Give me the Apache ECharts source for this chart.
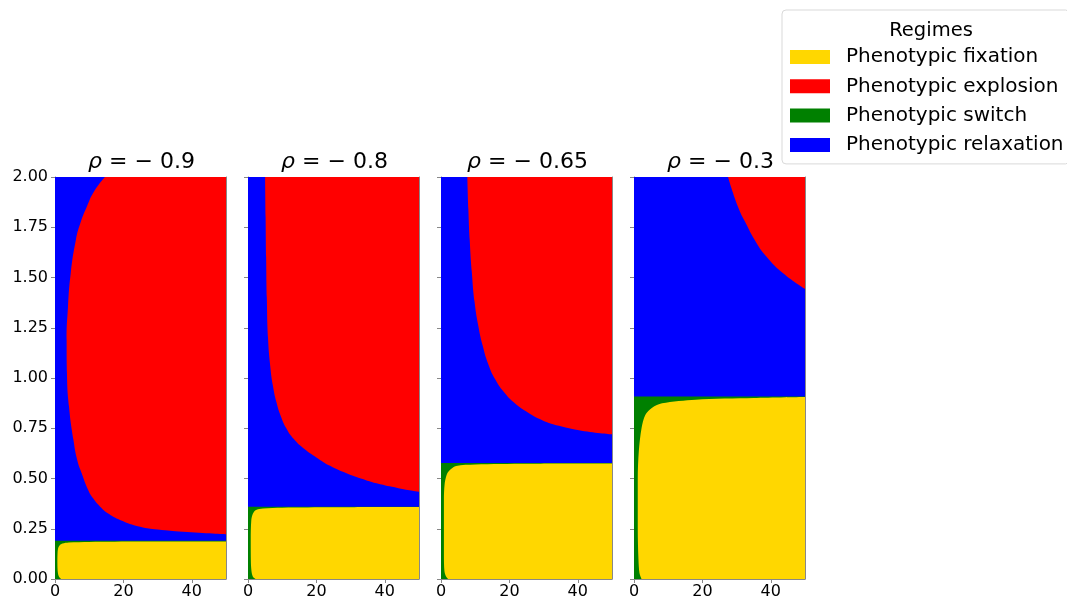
<!DOCTYPE html>
<html>
<head>
<meta charset="utf-8">
<script src="https://cdn.jsdelivr.net/npm/echarts@6/dist/echarts.min.js"></script>
<style>html,body{margin:0;padding:0;background:#fff}#c{width:1067px;height:596px}</style>
</head>
<body>
<div id="c"></div>
<script>
// ---- data ----
const rhoLabels = ['−0.9', '−0.8', '−0.65', '−0.3'];
const regimeNames = ['Phenotypic fixation', 'Phenotypic explosion', 'Phenotypic switch', 'Phenotypic relaxation'];
const regimeColors = ['#FFD700', '#FF0000', '#008000', '#0000FF'];
const xTicks = [0, 20, 40];
const xMax = 50, yMax = 2;

// top of the switch (green) band per panel
const switchTop = [0.19, 0.36, 0.577, 0.908];

// fixation (yellow) boundary, [x, y], filled down to y = 0
const fixation1 = [[1.8,0],[1.2,0.01],[0.85,0.03],[0.7,0.08],[0.75,0.13],[0.95,0.155],[1.4,0.168],[2.2,0.176],[4,0.181],[10,0.184],[25,0.186],[50,0.187]];
const fixation2 = [[2.2,0],[1.5,0.01],[1.1,0.03],[0.85,0.08],[0.8,0.2],[0.95,0.29],[1.3,0.32],[2.2,0.342],[4.4,0.351],[10,0.355],[25,0.357],[50,0.358]];
const fixation3 = [[2.1,0],[1.4,0.015],[1.0,0.04],[0.85,0.12],[0.85,0.4],[1.05,0.47],[1.5,0.51],[2.2,0.535],[4.4,0.562],[10,0.57],[25,0.574],[50,0.575]];
const fixation4 = [[2.2,0],[1.6,0.03],[1.3,0.1],[1.1,0.25],[1.1,0.5],[1.4,0.634],[2.2,0.75],[3.3,0.816],[5.3,0.852],[8.2,0.874],[18,0.892],[35,0.9],[50,0.905]];

// explosion (red) boundary, [x, y], filled up to y = 2
const explosion1 = [[14.6,2],[11.5,1.93],[9.3,1.852],[7.4,1.77],[6.1,1.687],[4.6,1.521],[3.8,1.355],[3.4,1.189],[3.5,1.023],[4.1,0.857],[5.4,0.692],[6.5,0.592],[7.8,0.526],[9.7,0.443],[11.2,0.4],[13.2,0.36],[15.8,0.323],[19,0.294],[24.9,0.26],[30,0.246],[37.5,0.235],[50,0.222]];
const explosion2 = [[5.0,2],[5.15,1.8],[5.3,1.6],[5.5,1.4],[5.85,1.2],[6.5,1.06],[7.3,0.96],[8.3,0.88],[9.6,0.81],[11.2,0.75],[13.4,0.696],[16.4,0.648],[20,0.605],[24,0.563],[28.8,0.526],[33,0.5],[37.6,0.476],[44,0.452],[50,0.434]];
const explosion3 = [[7.7,2],[8.0,1.84],[8.4,1.687],[9.0,1.53],[9.8,1.38],[10.9,1.26],[12.2,1.16],[13.8,1.07],[15.8,0.995],[18.4,0.93],[21.6,0.874],[25.4,0.828],[29.6,0.79],[34.5,0.762],[41.1,0.738],[50,0.72]];
const explosion4 = [[27.5,2],[30.4,1.852],[32.7,1.77],[35.3,1.687],[38.7,1.604],[43.6,1.521],[50,1.443]];

const fixations = [fixation1, fixation2, fixation3, fixation4];
const explosions = [explosion1, explosion2, explosion3, explosion4];

// ---- layout ----
const gridLefts = [55, 248, 441, 634];
const gridW = 171, gridTop = 177, gridH = 402;
const FONT = 'DejaVu Sans';
const axisColor = '#888888';

const grids = [], xAxes = [], yAxes = [], series = [], titles = [];

function areaSeries(name, color, pts, k, origin, smooth) {
  return {
    type: 'line', name: name,
    xAxisIndex: 2 * k, yAxisIndex: 2 * k,
    data: pts,
    smooth: smooth,
    showSymbol: false, symbol: 'none',
    color: color,
    itemStyle: { color: color },
    lineStyle: { width: 0, color: color },
    areaStyle: { color: color, opacity: 1, origin: origin },
    silent: true, animation: false,
    clip: true
  };
}

for (let k = 0; k < 4; k++) {
  grids.push({ left: gridLefts[k], top: gridTop, width: gridW, height: gridH, outerBoundsMode: 'none', containLabel: false });
  xAxes.push({
    gridIndex: k, type: 'value', min: 0, max: xMax, interval: 20, position: 'bottom',
    splitLine: { show: false },
    axisLine: { show: true, onZero: false, lineStyle: { color: axisColor, width: 1 } },
    axisTick: { show: true, length: 4, lineStyle: { color: axisColor }, customValues: xTicks },
    axisLabel: { show: true, fontFamily: FONT, fontSize: 16, color: '#000', margin: 5, customValues: xTicks }
  });
  xAxes.push({
    gridIndex: k, type: 'value', min: 0, max: xMax, position: 'top',
    splitLine: { show: false },
    axisLine: { show: true, onZero: false, lineStyle: { color: axisColor, width: 1 } },
    axisTick: { show: false }, axisLabel: { show: false }
  });
  yAxes.push({
    gridIndex: k, type: 'value', min: 0, max: yMax, interval: 0.25, position: 'left',
    splitLine: { show: false },
    axisLine: { show: true, onZero: false, lineStyle: { color: axisColor, width: 1 } },
    axisTick: { show: true, length: 4, lineStyle: { color: axisColor } },
    axisLabel: { show: k === 0, fontFamily: FONT, fontSize: 16, color: '#000', margin: 7,
      formatter: v => v.toFixed(2) }
  });
  yAxes.push({
    gridIndex: k, type: 'value', min: 0, max: yMax, position: 'right',
    splitLine: { show: false },
    axisLine: { show: true, onZero: false, lineStyle: { color: axisColor, width: 1 } },
    axisTick: { show: false }, axisLabel: { show: false }
  });

  series.push(areaSeries(regimeNames[3], regimeColors[3], [[0, yMax], [xMax, yMax]], k, 'start', false));
  series.push(areaSeries(regimeNames[2], regimeColors[2], [[0, switchTop[k]], [xMax, switchTop[k]]], k, 'start', false));
  series.push(areaSeries(regimeNames[0], regimeColors[0], fixations[k], k, 'start', 0.3));
  series.push(areaSeries(regimeNames[1], regimeColors[1], explosions[k], k, 'end', 0.5));

  titles.push({
    text: '{i|ρ} = ' + rhoLabels[k].replace('−', '− '),
    left: gridLefts[k] + gridW / 2 - 4, top: 146, textAlign: 'center',
    textStyle: {
      fontFamily: FONT, fontSize: 22, fontWeight: 'normal', color: '#000',
      rich: { i: { fontFamily: FONT, fontSize: 22, fontStyle: 'italic', color: '#000' } }
    }
  });
}

titles.push({
  text: 'Regimes', left: 926, top: 16, textAlign: 'center',
  textStyle: { fontFamily: FONT, fontSize: 19.5, fontWeight: 'normal', color: '#000' }
});

const option = {
  animation: false,
  backgroundColor: '#fff',
  title: titles,
  grid: grids,
  xAxis: xAxes,
  yAxis: yAxes,
  legend: {
    data: regimeNames.map((n, i) => ({ name: n, icon: 'rect', itemStyle: { color: regimeColors[i] } })),
    orient: 'vertical', left: 782, top: 10,
    padding: [37, 6, 9, 8],
    itemWidth: 40, itemHeight: 14, itemGap: 9.3,
    borderColor: '#d9d9d9', borderWidth: 1, borderRadius: 4,
    backgroundColor: '#fff',
    selectedMode: false,
    textStyle: { fontFamily: FONT, fontSize: 20, lineHeight: 20, color: '#000', padding: [0, 0, 0, 11] }
  },
  series: series
};

const chart = echarts.init(document.getElementById('c'), null, { renderer: 'canvas' });
chart.setOption(option);
</script>
</body>
</html>
